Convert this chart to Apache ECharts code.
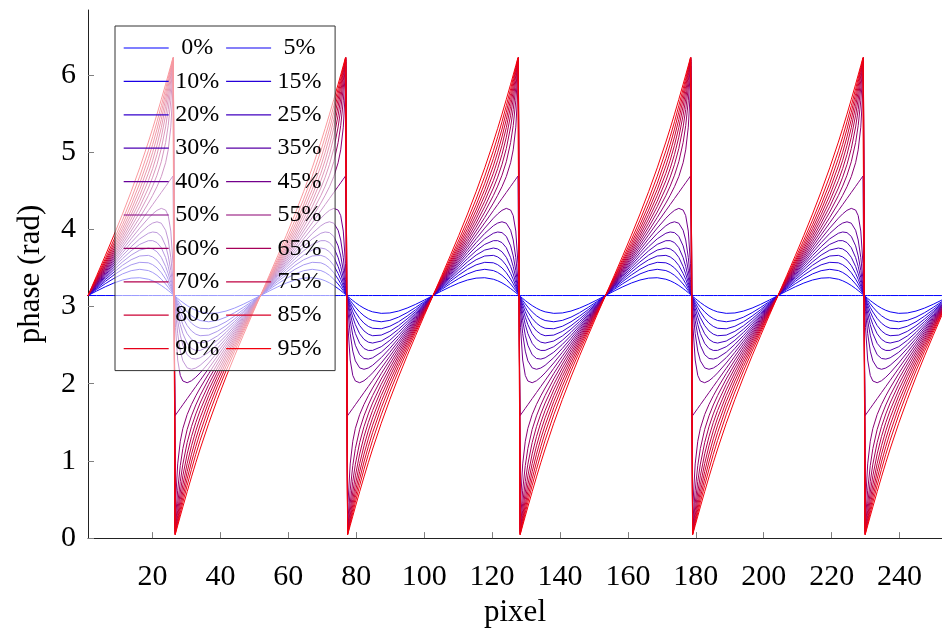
<!DOCTYPE html>
<html><head><meta charset="utf-8">
<script src="https://cdn.jsdelivr.net/npm/echarts@6/dist/echarts.min.js"></script>
<style>html,body{margin:0;padding:0;background:#fff}#c{width:942px;height:633px}</style>
</head><body><div id="c"></div>
<script>
// legend labels (one per curve)
const legendLabels = ['0%','5%','10%','15%','20%','25%','30%','35%','40%','45%','50%','55%','60%','65%','70%','75%','80%','85%','90%','95%'];
// sample positions within one period (fraction of the period; jump at 0.5)
const periodFraction = [0,0.05,0.1,0.15,0.2,0.25,0.3,0.35,0.375,0.4,0.425,0.45,0.465,0.48,0.4925,0.495,
  0.505,0.5075,0.52,0.535,0.55,0.575,0.6,0.625,0.65,0.7,0.75,0.8,0.85,0.9,0.95];
const periodStart = 1;
const periodLength = 50.8;
const periodCount = 5;
// phase (rad) over one period, per curve
const p00 = [3.1416,3.1416,3.1416,3.1416,3.1416,3.1416,3.1416,3.1416,3.1416,3.1416,3.1416,3.1416,3.1416,3.1416,3.1416,3.1416,3.1416,3.1416,3.1416,3.1416,3.1416,3.1416,3.1416,3.1416,3.1416,3.1416,3.1416,3.1416,3.1416,3.1416,3.1416];
const p05 = [3.1416,3.1997,3.2548,3.3037,3.3426,3.3671,3.3723,3.3529,3.3329,3.3057,3.2718,3.2320,3.2060,3.1788,3.1556,3.1509,3.1323,3.1276,3.1044,3.0772,3.0512,3.0114,2.9775,2.9503,2.9303,2.9109,2.9161,2.9406,2.9795,3.0284,3.0835];
const p10 = [3.1416,3.2197,3.2947,3.3634,3.4215,3.4634,3.4814,3.4651,3.4407,3.4037,3.3536,3.2913,3.2490,3.2039,3.1651,3.1573,3.1259,3.1181,3.0793,3.0342,2.9919,2.9296,2.8795,2.8425,2.8181,2.8018,2.8198,2.8617,2.9198,2.9885,3.0635];
const p15 = [3.1416,3.2341,3.3238,3.4077,3.4815,3.5393,3.5720,3.5656,3.5414,3.4998,3.4374,3.3545,3.2957,3.2316,3.1757,3.1643,3.1189,3.1075,3.0516,2.9875,2.9287,2.8458,2.7834,2.7418,2.7176,2.7112,2.7439,2.8017,2.8755,2.9594,3.0491];
const p20 = [3.1416,3.2459,3.3479,3.4445,3.5330,3.6052,3.6539,3.6620,3.6421,3.6000,3.5308,3.4280,3.3515,3.2653,3.1886,3.1730,3.1102,3.0946,3.0179,2.9317,2.8552,2.7524,2.6832,2.6411,2.6212,2.6293,2.6780,2.7502,2.8387,2.9353,3.0373];
const p25 = [3.1416,3.2563,3.3689,3.4771,3.5778,3.6652,3.7308,3.7570,3.7455,3.7086,3.6365,3.5184,3.4224,3.3094,3.2058,3.1845,3.0987,3.0774,2.9738,2.8608,2.7648,2.6467,2.5746,2.5377,2.5262,2.5524,2.6180,2.7054,2.8061,2.9143,3.0269];
const p30 = [3.1416,3.2656,3.3880,3.5069,3.6194,3.7212,3.8043,3.8521,3.8527,3.8273,3.7611,3.6336,3.5182,3.3715,3.2305,3.2010,3.0822,3.0527,2.9117,2.7650,2.6496,2.5221,2.4559,2.4305,2.4311,2.4789,2.5620,2.6638,2.7763,2.8952,3.0176];
const p35 = [3.1416,3.2744,3.4059,3.5354,3.6590,3.7743,3.8758,3.9485,3.9647,3.9568,3.9078,3.7855,3.6550,3.4677,3.2703,3.2279,3.0553,3.0129,2.8155,2.6282,2.4977,2.3754,2.3264,2.3185,2.3347,2.4074,2.5089,2.6242,2.7478,2.8773,3.0088];
const p40 = [3.1416,3.2827,3.4229,3.5614,3.6965,3.8264,3.9459,4.0454,4.0805,4.0968,4.0785,3.9876,3.8614,3.6357,3.3472,3.2802,3.0030,2.9360,2.6475,2.4218,2.2956,2.2047,2.1864,2.2027,2.2378,2.3373,2.4568,2.5867,2.7218,2.8603,3.0005];
const p45 = [3.1416,3.2907,3.4394,3.5873,3.7335,3.8769,4.0152,4.1431,4.1993,4.2452,4.2707,4.2488,4.1767,3.9768,3.5575,3.4296,2.8536,2.7257,2.3064,2.1065,2.0344,2.0125,2.0380,2.0839,2.1401,2.2680,2.4063,2.5497,2.6959,2.8438,2.9925];
const p50 = [3.1416,3.2987,3.4558,3.6128,3.7699,3.9270,4.0841,4.2412,4.3197,4.3982,4.4768,4.5553,4.6025,4.6496,4.6889,4.6967,1.5865,1.5943,1.6336,1.6807,1.7279,1.8064,1.8850,1.9635,2.0420,2.1991,2.3562,2.5133,2.6704,2.8274,2.9845];
const p55 = [3.1416,3.3066,3.4721,3.6383,3.8063,3.9771,4.1526,4.3392,4.4401,4.5513,4.6826,4.8618,5.0287,5.3223,5.8202,5.9638,0.3194,0.4630,0.9609,1.2545,1.4214,1.6006,1.7319,1.8431,1.9440,2.1306,2.3061,2.4769,2.6449,2.8111,2.9766];
const p60 = [3.1416,3.3147,3.4886,3.6641,3.8432,4.0277,4.2225,4.4369,4.5589,4.6996,4.8750,5.1231,5.3431,5.6634,6.0304,6.1132,0.1700,0.2528,0.6198,0.9401,1.1601,1.4082,1.5836,1.7243,1.8463,2.0607,2.2555,2.4400,2.6191,2.7946,2.9685];
const p65 = [3.1416,3.3230,3.5056,3.6912,3.8810,4.0793,4.2923,4.5338,4.6747,4.8397,5.0457,5.3252,5.5498,5.8315,6.1073,6.1655,0.1177,0.1759,0.4517,0.7334,0.9580,1.2375,1.4435,1.6085,1.7494,1.9909,2.2039,2.4022,2.5920,2.7776,2.9602];
const p70 = [3.1416,3.3317,3.5235,3.7188,3.9204,4.1327,4.3638,4.6299,4.7864,4.9692,5.1924,5.4770,5.6865,5.9273,6.1472,6.1924,0.0908,0.1360,0.3559,0.5967,0.8062,1.0908,1.3140,1.4968,1.6533,1.9194,2.1505,2.3628,2.5644,2.7597,2.9515];
const p75 = [3.1416,3.3411,3.5426,3.7485,3.9622,4.1888,4.4374,4.7253,4.8939,5.0878,5.3170,5.5925,5.7824,5.9897,6.1719,6.2089,0.0743,0.1113,0.2935,0.5008,0.6907,0.9662,1.1954,1.3893,1.5579,1.8458,2.0944,2.3210,2.5347,2.7406,2.9421];
const p80 = [3.1416,3.3514,3.5636,3.7811,4.0075,4.2487,4.5142,4.8205,4.9973,5.1961,5.4231,5.6825,5.8534,6.0338,6.1890,6.2204,0.0628,0.0942,0.2494,0.4298,0.6007,0.8601,1.0871,1.2859,1.4627,1.7690,2.0345,2.2757,2.5021,2.7196,2.9318];
const p85 = [3.1416,3.3633,3.5877,3.8180,4.0583,4.3147,4.5961,4.9168,5.0986,5.2969,5.5161,5.7563,5.9092,6.0675,6.2020,6.2290,0.0542,0.0812,0.2157,0.3740,0.5269,0.7671,0.9863,1.1846,1.3664,1.6871,1.9685,2.2249,2.4652,2.6955,2.9199];
const p90 = [3.1416,3.3777,3.6168,3.8623,4.1184,4.3906,4.6868,5.0171,5.1984,5.3926,5.6001,5.8193,5.9559,6.0952,6.2125,6.2361,0.0471,0.0707,0.1880,0.3273,0.4639,0.6831,0.8906,1.0848,1.2661,1.5964,1.8926,2.1648,2.4209,2.6664,2.9055];
const p95 = [3.1416,3.3976,3.6568,3.9220,4.1971,4.4869,4.7959,5.1294,5.3067,5.4908,5.6818,5.8786,5.9989,6.1203,6.2220,6.2424,0.0408,0.0612,0.1629,0.2843,0.4046,0.6014,0.7924,0.9765,1.1538,1.4873,1.7963,2.0861,2.3612,2.6264,2.8856];
const xTicks = [20,40,60,80,100,120,140,160,180,200,220,240];
const yTicks = [0,1,2,3,4,5,6];

const curves = [p00,p05,p10,p15,p20,p25,p30,p35,p40,p45,p50,p55,p60,p65,p70,p75,p80,p85,p90,p95];
const FONT = "'Liberation Serif','DejaVu Serif',serif";

function curveColor(k) {
  const t = k / 20;
  return 'rgb(' + Math.round(255 * t) + ',0,' + Math.round(255 * (1 - t)) + ')';
}

const series = curves.map((vals, k) => {
  const data = [];
  for (let n = 0; n < periodCount; n++) {
    for (let j = 0; j < periodFraction.length; j++) {
      data.push([periodStart + periodLength * (n + periodFraction[j]), vals[j]]);
    }
  }
  data.push([periodStart + periodLength * periodCount, vals[0]]);
  return {
    name: legendLabels[k], type: 'line', data: data,
    symbol: 'none', showSymbol: false, smooth: false, clip: true,
    lineStyle: { width: 1, color: curveColor(k) },
    itemStyle: { color: curveColor(k) },
    emphasis: { disabled: true }, z: 2
  };
});

const chart = echarts.init(document.getElementById('c'));
chart.setOption({
  animation: false,
  backgroundColor: '#fff',
  grid: { left: 88, right: 0, top: 10, bottom: 92, containLabel: false },
  xAxis: {
    type: 'value', min: 1, max: 252.5,
    name: 'pixel', nameLocation: 'middle', nameGap: 52,
    nameTextStyle: { fontFamily: FONT, fontSize: 31, color: '#000' },
    axisLine: { show: true, onZero: false, lineStyle: { color: '#222', width: 1 } },
    axisTick: { show: true, inside: true, length: 6, customValues: xTicks, lineStyle: { color: '#808080' } },
    axisLabel: { customValues: xTicks, fontFamily: FONT, fontSize: 30, color: '#000', margin: 24 },
    splitLine: { show: false }
  },
  yAxis: {
    type: 'value', min: 0, max: 6.84,
    name: 'phase (rad)', nameLocation: 'middle', nameGap: 42, nameRotate: 90,
    nameTextStyle: { fontFamily: FONT, fontSize: 31, color: '#000' },
    axisLine: { show: true, onZero: false, lineStyle: { color: '#222', width: 1 } },
    axisTick: { show: true, inside: true, length: 6, customValues: yTicks, lineStyle: { color: '#808080' } },
    axisLabel: { customValues: yTicks, fontFamily: FONT, fontSize: 30, color: '#000', margin: 12 },
    splitLine: { show: false }
  },
  legend: {
    data: legendLabels, orient: 'horizontal',
    left: 115, top: 26, width: 240,
    icon: 'rect', itemWidth: 45, itemHeight: 1.2, itemGap: 5.4,
    padding: [8, 12, 8, 8.7],
    backgroundColor: 'rgba(255,255,255,0.6)',
    borderColor: '#333', borderWidth: 1, borderRadius: 0,
    selectedMode: false,
    formatter: function (n) { return '{c|' + n + '}'; },
    textStyle: {
      fontFamily: FONT, fontSize: 24, color: '#000',
      rich: { c: { width: 47, height: 28, lineHeight: 28, align: 'center', fontFamily: FONT, fontSize: 24, color: '#000' } }
    }
  },
  series: series
});
</script>
</body></html>
